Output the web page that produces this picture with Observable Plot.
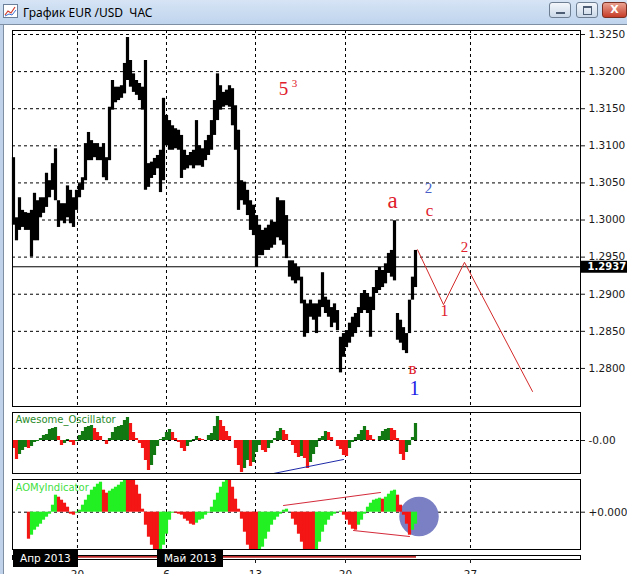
<!DOCTYPE html>
<html><head><meta charset="utf-8">
<script src="https://cdn.jsdelivr.net/npm/d3@7"></script>
<script src="https://cdn.jsdelivr.net/npm/@observablehq/plot@0.6"></script>
<style>
html,body{margin:0;padding:0;background:#fff;}
#win{position:relative;width:627px;height:574px;overflow:hidden;background:#fff;}
#tb{position:absolute;left:0;top:0;width:627px;height:24px;background:linear-gradient(#d6e4f5,#bfd4ed);border-bottom:1px solid #7f8fa3;}
#tb .title{position:absolute;left:23px;top:4px;font:12px "Noto Sans",sans-serif;color:#000;white-space:pre;}
#tb .icon{position:absolute;left:3px;top:4px;}
#lb{position:absolute;left:0;top:25px;width:3px;height:549px;background:#bfd2ea;border-right:1px solid #7f8fa3;}
.btn{position:absolute;top:2px;height:16px;border:1px solid #6d7d92;border-radius:3px;background:linear-gradient(#f4f7fb,#cbd8e8);box-sizing:border-box;}
.btn.close{background:linear-gradient(#eaa292,#c63d28);border-color:#7a3124;color:#fff;font:bold 11px "DejaVu Sans";text-align:center;line-height:14px;}
.panel{position:absolute;left:0;}
.month{position:absolute;top:550px;height:17px;background:#000;color:#fff;font:10.5px "DejaVu Sans",sans-serif;line-height:17px;padding:0 7px;white-space:nowrap;}
</style></head>
<body>
<div id="win">
  <div id="tb">
    <svg class="icon" width="15" height="14"><rect x="0.5" y="0.5" width="14" height="13" fill="#fff" stroke="#6b7f99"/><polyline points="2,11 5,7 8,9 12,3" fill="none" stroke="#d23b2b" stroke-width="1.2"/><polyline points="2,12 6,10 9,11 13,6" fill="none" stroke="#3b6fd2" stroke-width="1"/></svg>
    <span class="title">График EUR /USD  ЧАС</span>
    <div class="btn" style="left:549px;width:22px;"><div style="position:absolute;left:6px;top:9px;width:9px;height:2px;background:#4d5d74"></div></div>
    <div class="btn" style="left:576px;width:22px;"><div style="position:absolute;left:6px;top:3px;width:7px;height:6px;border:1px solid #4d5d74;border-top-width:2px"></div></div>
    <div class="btn close" style="left:602px;width:25px;">X</div>
  </div>
  <div id="lb"></div>
  <div id="main" class="panel" style="top:28px"></div>
  <div id="ao" class="panel" style="top:410px"></div>
  <div id="aomy" class="panel" style="top:476px"></div>
  <div id="strip" class="panel" style="top:549px"></div>
</div>
<script>
// ---- price bars (hourly, high / low) ----
const barHigh = [
1.3084,1.3003,1.3030,1.3013,1.3010,1.3009,1.3013,1.3036,1.3026,1.3030,
1.3030,1.3063,1.3053,1.3076,1.3096,1.3026,1.3022,1.3022,1.3046,1.3040,
1.3030,1.3040,1.3049,1.3057,1.3103,1.3118,1.3107,1.3103,1.3103,1.3098,
1.3103,1.3084,1.3152,1.3188,1.3179,1.3179,1.3181,1.3211,1.3246,1.3215,
1.3197,1.3188,1.3184,1.3179,1.3215,1.3076,1.3078,1.3083,1.3087,1.3094,
1.3164,1.3141,1.3134,1.3127,1.3123,1.3121,1.3114,1.3094,1.3087,1.3091,
1.3094,1.3134,1.3100,1.3096,1.3107,1.3114,1.3134,1.3161,1.3197,1.3181,
1.3172,1.3175,1.3181,1.3177,1.3154,1.3121,1.3053,1.3051,1.3040,1.3026,
1.3020,1.3006,1.2993,1.2986,1.2989,1.2993,1.2999,1.2997,1.3030,1.3026,
1.3026,1.3006,1.2945,1.2945,1.2941,1.2936,1.2923,1.2892,1.2887,1.2892,
1.2887,1.2887,1.2892,1.2929,1.2896,1.2892,1.2882,1.2887,1.2878,1.2842,
1.2847,1.2851,1.2861,1.2869,1.2874,1.2882,1.2901,1.2905,1.2901,1.2896,
1.2909,1.2932,1.2936,1.2932,1.2941,1.2955,1.2959,1.2999,1.2874,1.2865,
1.2855,1.2847,1.2892,1.2923,1.2959];
const barLow = [
1.2993,1.2972,1.2986,1.2990,1.2986,1.2986,1.2950,1.2972,1.2972,1.3003,
1.3009,1.3017,1.3030,1.3040,1.3026,1.2990,1.2999,1.2995,1.3003,1.2995,
1.2990,1.3013,1.3030,1.3040,1.3053,1.3080,1.3080,1.3084,1.3080,1.3080,
1.3057,1.3053,1.3080,1.3148,1.3158,1.3161,1.3164,1.3170,1.3188,1.3179,
1.3172,1.3168,1.3161,1.3148,1.3040,1.3044,1.3056,1.3060,1.3069,1.3037,
1.3053,1.3100,1.3094,1.3094,1.3096,1.3094,1.3056,1.3067,1.3069,1.3073,
1.3069,1.3073,1.3073,1.3071,1.3080,1.3087,1.3094,1.3114,1.3134,1.3148,
1.3152,1.3154,1.3152,1.3127,1.3094,1.3013,1.3026,1.3020,1.3006,1.2986,
1.2979,1.2936,1.2952,1.2952,1.2959,1.2959,1.2962,1.2966,1.2976,1.2972,
1.2966,1.2948,1.2923,1.2918,1.2914,1.2918,1.2887,1.2842,1.2847,1.2869,
1.2865,1.2847,1.2869,1.2882,1.2874,1.2869,1.2855,1.2861,1.2851,1.2794,
1.2815,1.2828,1.2834,1.2842,1.2847,1.2855,1.2874,1.2878,1.2874,1.2842,
1.2878,1.2901,1.2905,1.2909,1.2914,1.2928,1.2923,1.2918,1.2838,1.2834,
1.2824,1.2820,1.2847,1.2892,1.2909];

// ---- Awesome Oscillator (pips) ----
const aoValues = [
-8,-19,-14,-10,-7,-8,-6,-2,-1,2, 5,6,11,12,13,4,-5,-3,1,-2,
-5,-1,5,9,13,14,15,12,8,4, 0,-4,2,8,13,14,15,20,23,17,
8,2,-3,-8,-20,-30,-25,-15,-6,1, 3,8,11,8,2,-2,-8,-11,-6,-2,
1,4,2,1,0,5,7,14,24,20, 14,9,4,0,-8,-25,-32,-28,-20,-26,
-22,-12,-5,-10,-12,-8,-3,2,9,12, 10,6,0,-5,-13,-17,-16,-18,-28,-22,
-14,-7,2,4,9,8,3,0,-6,-9, -15,-16,-8,-2,3,6,10,14,10,5,
1,0,4,9,11,12,12,10,2,-14, -20,-12,-5,3,17];

// ---- AOMyIndicator (units) ----
const aoMyValues = [
0,0,0,0,0,-27,-23,-18,-15,-12, -8,-5,-2,7,17,15,12,9,5,-2,
-3,-1,2,7,12,17,22,25,28,30, 22,19,21,23,25,27,30,34,34,34,
33,27,18,3,-13,-25,-33,-40,-42,-40, -33,-22,-8,-1,-1,-2,-3,-7,-9,-12,
-13,-11,-8,-7,-3,-1,5,12,19,25, 30,33,33,25,13,3,-7,-20,-33,-40,
-42,-42,-40,-35,-27,-20,-13,-8,-5,-2, 2,3,0,-7,-13,-22,-30,-38,-42,-42,
-43,-39,-30,-20,-13,-8,-4,-2,0,1, -3,-8,-13,-17,-18,-13,-8,-2,5,9,
12,13,14,13,15,18,21,22,17,7, -3,-12,-23,-18,-12];

// ---- axes / ticks ----
const priceTicks = [1.3250,1.3200,1.3150,1.3100,1.3050,1.3000,1.2950,1.2900,1.2850,1.2800];
const lastPrice = 1.2937;
const dateTickBars = [21.33, 51, 80.67, 110.67, 152.33];
const dateTickLabels = ["20","6","13","20","27"];
const monthStartBars = [0, 48.1];
const monthLabels = ["Апр 2013","Май 2013"];

// ---- forecast path (red) ----
const forecastBars = [134.67, 143.33, 150.33, 173];
const forecastPrices = [1.2960, 1.2886, 1.2943, 1.2769];

// ---- wave labels ----
const redLabels = ["5","3","a","c","в","1","2"];
const redBars = [90, 93.67, 126.33, 138.67, 133, 143.67, 150.33];
const redPrices = [1.3177, 1.3184, 1.3026, 1.3013, 1.2800, 1.2877, 1.2964];
const blueLabels = ["2","1"];
const blueBars = [138.33, 133.67];
const bluePrices = [1.3043, 1.2773];

// ---- indicator annotations ----
const aoTrendBars = [86.67, 110];
const aoTrendValues = [-33, -19];
const aoMyUpperBars = [90, 122.33];
const aoMyUpperValues = [6.7, 19.7];
const aoMyLowerBars = [113.33, 132];
const aoMyLowerValues = [-18.3, -24.3];
const aoMyBlobBar = 135.17, aoMyBlobValue = -4.3;
const stripLineEndBar = 134.33;

// ------------------------------------------------------------
const W = 627, ML = 12, MR = 47;
const xDomain = [-0.33, 189];
const dash = {stroke: "#000", strokeDasharray: "3,3", strokeWidth: 1};
const baseStyle = {fontFamily: "DejaVu Sans, sans-serif", fontSize: "10.5px", color: "#1a1a1a", background: "transparent", overflow: "visible"};

const bars = barHigh.map((h, i) => ({i, hi: h, lo: barLow[i]}));
const forecast = forecastBars.map((b, k) => ({b, p: forecastPrices[k]}));
const reds = redLabels.map((t, k) => ({t, b: redBars[k], p: redPrices[k]}));
const blues = blueLabels.map((t, k) => ({t, b: blueBars[k], p: bluePrices[k]}));
const redSize = {"5": 19, "3": 11, "a": 23, "c": 17, "в": 17, "1": 16, "2": 15};
const blueSize = {"2": 15, "1": 20};
const blueFill = {"2": "#4a5fc8", "1": "#1a1ae6"};

const main = Plot.plot({
  width: W, height: 382, marginLeft: ML, marginRight: MR, marginTop: 2, marginBottom: 4,
  x: {domain: xDomain, axis: null},
  y: {domain: [1.27487, 1.32554], axis: null},
  color: {type: "identity"},
  style: baseStyle,
  marks: [
    Plot.ruleY(priceTicks, dash),
    Plot.ruleX(dateTickBars, dash),
    Plot.ruleY([lastPrice], {stroke: "#000", strokeWidth: 1}),
    Plot.ruleX(bars, {x: "i", y1: "lo", y2: "hi", stroke: "#000", strokeWidth: 3.2}),
    Plot.line(forecast, {x: "b", y: "p", stroke: "#d42a2a", strokeWidth: 1}),
    Plot.text(reds, {x: "b", y: "p", text: "t", fill: "#e0202c", fontFamily: "Liberation Serif, serif",
      fontSize: d => redSize[d.t]}),
    Plot.text(blues, {x: "b", y: "p", text: "t", fill: d => blueFill[d.t], fontFamily: "Liberation Serif, serif",
      fontSize: d => blueSize[d.t]}),
    Plot.frame({stroke: "#000"}),
    Plot.axisY(priceTicks, {anchor: "right", label: null, tickSize: 4, tickPadding: 4, tickFormat: d => d.toFixed(4)}),
    Plot.ruleY([lastPrice], {x1: 189, x2: 206, stroke: "#000", strokeWidth: 12}),
    Plot.text([lastPrice], {x: 189, y: d => d, text: d => d.toFixed(4), dx: 7, textAnchor: "start", fill: "#fff", fontSize: 10, fontWeight: 600})
  ]
});
document.getElementById("main").appendChild(main);

const aoData = aoValues.map((v, i) => ({i, v, up: i > 0 && v > aoValues[i - 1]}));
const ao = Plot.plot({
  width: W, height: 66, marginLeft: ML, marginRight: MR, marginTop: 2, marginBottom: 3,
  x: {domain: xDomain, axis: null},
  y: {domain: [-33, 28], axis: null},
  color: {type: "identity"},
  style: baseStyle,
  marks: [
    Plot.ruleX(dateTickBars, dash),
    Plot.ruleY([0], dash),
    Plot.ruleX(aoData, {x: "i", y1: 0, y2: "v", stroke: d => d.up ? "#127812" : "#f41515", strokeWidth: 3.2, clip: true}),
    Plot.line(aoTrendBars.map((b, k) => ({b, v: aoTrendValues[k]})), {x: "b", y: "v", stroke: "#1f2aa8", strokeWidth: 1}),
    Plot.text(["Awesome_Oscillator"], {frameAnchor: "top-left", dx: 3, dy: 3, fill: "#2a8a2a", fontSize: 10}),
    Plot.frame({stroke: "#000"}),
    Plot.axisY([0], {anchor: "right", label: null, tickSize: 4, tickPadding: 4, tickFormat: () => "-0.00"})
  ]
});
document.getElementById("ao").appendChild(ao);

const aoMyData = aoMyValues.map((v, i) => ({i, v, up: i > 0 && v > aoMyValues[i - 1]}));
const aomy = Plot.plot({
  width: W, height: 76, marginLeft: ML, marginRight: MR, marginTop: 3, marginBottom: 3,
  x: {domain: xDomain, axis: null},
  y: {domain: [-37.3, 32.7], axis: null},
  color: {type: "identity"},
  style: baseStyle,
  marks: [
    Plot.ruleX(dateTickBars, dash),
    Plot.ruleY([0], dash),
    Plot.dot([{b: aoMyBlobBar, v: aoMyBlobValue}], {x: "b", y: "v", r: 19, fill: "#7b80c4", stroke: "#7b80c4"}),
    Plot.ruleX(aoMyData, {x: "i", y1: 0, y2: "v", stroke: d => d.up ? "#22f022" : "#f41515", strokeWidth: 3.2, clip: true}),
    Plot.line(aoMyUpperBars.map((b, k) => ({b, v: aoMyUpperValues[k]})), {x: "b", y: "v", stroke: "#d42a3a", strokeWidth: 1}),
    Plot.line(aoMyLowerBars.map((b, k) => ({b, v: aoMyLowerValues[k]})), {x: "b", y: "v", stroke: "#d42a3a", strokeWidth: 1}),
    Plot.text(["AOMyIndicator"], {frameAnchor: "top-left", dx: 3, dy: 4, fill: "#3fe03f", fontSize: 10}),
    Plot.frame({stroke: "#000"}),
    Plot.axisY([0], {anchor: "right", label: null, tickSize: 4, tickPadding: 4, tickFormat: () => "+0.000"})
  ]
});
document.getElementById("aomy").appendChild(aomy);

const strip = Plot.plot({
  width: W, height: 25, marginLeft: ML, marginRight: MR, marginTop: 6, marginBottom: 15,
  x: {domain: xDomain, axis: null},
  y: {domain: [0, 1], axis: null},
  style: baseStyle,
  marks: [
    Plot.ruleY([0.75], {x1: xDomain[0], x2: stripLineEndBar, stroke: "#b82828", strokeWidth: 2.5}),
    Plot.frame({stroke: "#000"}),
    Plot.axisX(dateTickBars, {anchor: "bottom", label: null, tickSize: 4, tickPadding: 7, tickFormat: (d, k) => dateTickLabels[k]})
  ]
});
document.getElementById("strip").appendChild(strip);

const xs = main.scale("x");
monthLabels.forEach((m, k) => {
  const d = document.createElement("div");
  d.className = "month";
  d.textContent = m;
  d.style.left = Math.round(xs.apply(monthStartBars[k])) + "px";
  document.getElementById("win").appendChild(d);
});
</script>
</body></html>
